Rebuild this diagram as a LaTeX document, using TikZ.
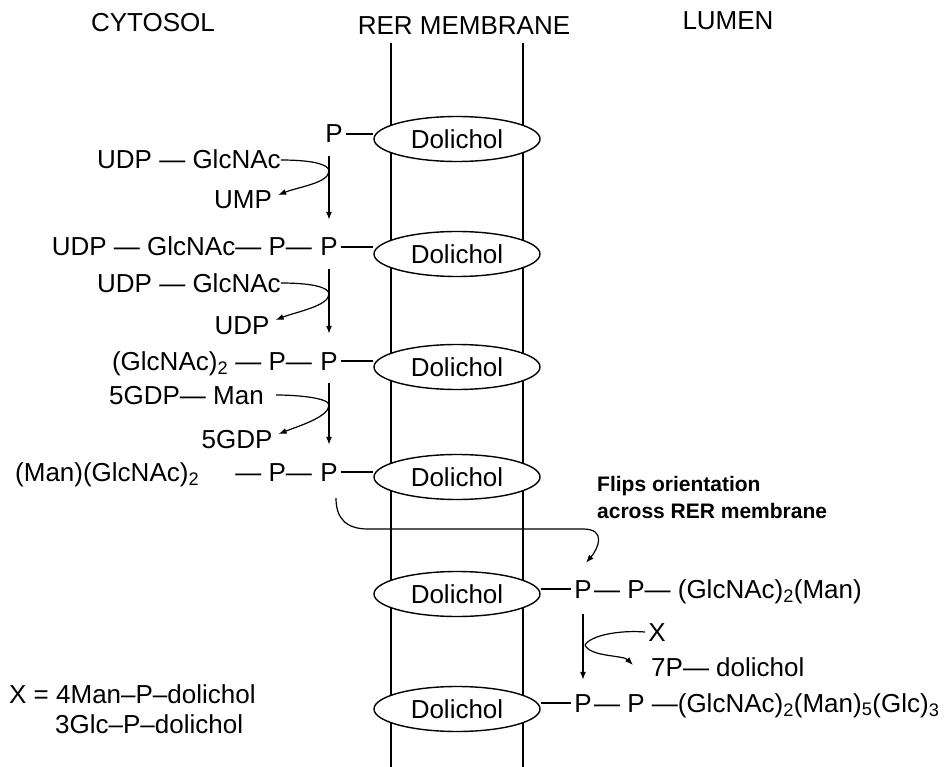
\documentclass[tikz,border=0pt]{standalone}
\usepackage{fontspec}
\setmainfont{Liberation Sans}
\usetikzlibrary{shapes.geometric,arrows.meta}
\begin{document}
\begin{tikzpicture}[x=1pt,y=1pt,
  txt/.style={inner sep=0pt, text height=18pt, text depth=0pt, font=\fontsize{26}{30}\selectfont},
  note/.style={inner sep=0pt, text height=14pt, text depth=0pt, font=\bfseries\fontsize{21}{25}\selectfont},
  dol/.style={ellipse, draw, line width=1.4pt, fill=white, minimum width=166pt, minimum height=45pt, inner sep=0pt, font=\fontsize{26}{30}\selectfont},
  ln/.style={line width=1.2pt},
  arr/.style={line width=1.2pt, -{Latex[length=8pt,width=6pt]}}
]
\useasboundingbox (0,0) rectangle (950,-767);
% headers
\node[txt] (cyt) at (153,-23) {CYTOSOL};
\node[txt] (rer) at (464,-26) {RER MEMBRANE};
\node[txt] (lum) at (728,-21) {LUMEN};
% membrane
\coordinate (mLt) at (391,-43); \coordinate (mLb) at (391,-767);
\coordinate (mRt) at (523,-43); \coordinate (mRb) at (523,-767);
\draw[ln] (mLt) -- (mLb);
\draw[ln] (mRt) -- (mRb);
% dolichol
\node[dol] (d1) at (457,-139) {Dolichol};
\node[dol] (d2) at (457,-254) {Dolichol};
\node[dol] (d3) at (457,-367) {Dolichol};
\node[dol] (d4) at (457,-477) {Dolichol};
\node[dol] (d5) at (457,-594) {Dolichol};
\node[dol] (d6) at (457,-709) {Dolichol};
% row 1
\node[txt] (p1) at (334,-134) {P};
\draw[ln] ([xshift=3pt]p1.east) -- (p1.east -| d1.west);
\node[txt,anchor=west] (ga) at (97,-160) {UDP — GlcNAc};
\node[txt] (ump) at (243,-200) {UMP};
% row 2
\node[txt] (p2) at (329,-247) {P};
\node[txt,anchor=east] (c2) at ([xshift=-8pt]p2.west) {UDP — GlcNAc— P—};
\draw[ln] ([xshift=3pt]p2.east) -- (p2.east -| d2.west);
\coordinate (j1) at (329,-171);
\draw[ln] (ga.east) .. controls +(30,0) and +(0,7) .. (j1);
\draw[arr] (j1) .. controls +(0,-12) and +(20,8) .. ([xshift=6pt,yshift=5pt]ump.east);
\draw[arr, shorten <=13pt, shorten >=18pt] (p2 |- p1.south) -- (p2.north);
% row 2b
\node[txt,anchor=west] (gb) at (97,-283) {UDP — GlcNAc};
\node[txt] (udp) at (242,-325) {UDP};
% row 3
\node[txt] (p3) at (329,-361) {P};
\node[txt,anchor=east] (c3) at ([xshift=-8pt]p3.west) {(GlcNAc)\textsubscript{2} — P—};
\draw[ln] ([xshift=3pt]p3.east) -- (p3.east -| d3.west);
\coordinate (j2) at (329,-294);
\draw[ln] (gb.east) .. controls +(30,0) and +(0,7) .. (j2);
\draw[arr] (j2) .. controls +(0,-12) and +(20,8) .. ([xshift=6pt,yshift=5pt]udp.east);
\draw[arr, shorten <=13pt, shorten >=18pt] (p2.south) -- (p3.north);
% row 3b
\node[txt,anchor=west] (gm) at (109,-395) {5GDP— Man};
\node[txt] (gdp) at (237,-439) {5GDP};
% row 4
\node[txt] (p4) at (329,-472) {P};
\node[txt,anchor=east] (c4) at ([xshift=-8pt]p4.west) {— P—};
\node[txt,anchor=west] (c4a) at (15,-472) {(Man)(GlcNAc)\textsubscript{2}};
\draw[ln] ([xshift=3pt]p4.east) -- (p4.east -| d4.west);
\coordinate (j3) at (329,-405);
\draw[ln] ([xshift=12pt]gm.east) .. controls +(22,0) and +(0,7) .. (j3);
\draw[arr] (j3) .. controls +(0,-12) and +(20,8) .. ([xshift=6pt,yshift=5pt]gdp.east);
\draw[arr, shorten <=13pt, shorten >=18pt] (p3.south) -- (p4.north);
% flip
\node[note,anchor=west] (fl1) at (597,-484) {Flips orientation};
\node[note,anchor=west] (fl2) at (597,-511) {across RER membrane};
\node[txt] (p5) at (583,-589) {P};
\coordinate (fh1) at (368,-529);
\coordinate (fh2) at (583,-529);
\draw[arr] ([xshift=7pt,yshift=-17pt]p4.south) .. controls +(0,-20) and +(-22,0) .. (fh1) -- (fh2)
  .. controls +(24,0) and +(12,14) .. ([xshift=3pt,yshift=17pt]p5.north);
% row 5
\draw[ln] (d5.east |- p5) -- ([xshift=-3pt]p5.west);
\node[txt,anchor=west] (c5) at ([xshift=2pt]p5.east) {— P— (GlcNAc)\textsubscript{2}(Man)};
\node[txt] (xn) at (657,-632) {X};
\node[txt,anchor=west] (sp7) at (651,-667) {7P— dolichol};
% row 6
\node[txt] (p6) at (583,-703) {P};
\draw[ln] (d6.east |- p6) -- ([xshift=-3pt]p6.west);
\node[txt,anchor=west] (c6) at ([xshift=2pt]p6.east) {— P —(GlcNAc)\textsubscript{2}(Man)\textsubscript{5}(Glc)\textsubscript{3}};
\coordinate (j5) at (585,-645);
\draw[ln] ([xshift=-3pt]xn.west) .. controls +(-25,2) and +(6,10) .. (j5);
\draw[arr] (j5) .. controls +(5,-12) and +(-10,10) .. ([xshift=-18pt,yshift=2pt]sp7.west);
\draw[arr, shorten <=16pt, shorten >=14pt] (p6 |- p5.south) -- (p6.north);
% legend
\node[txt,anchor=west] (xd1) at (9,-694) {X = 4Man–P–dolichol};
\node[txt,anchor=west] (xd2) at (55,-724) {3Glc–P–dolichol};
\end{tikzpicture}
\end{document}
